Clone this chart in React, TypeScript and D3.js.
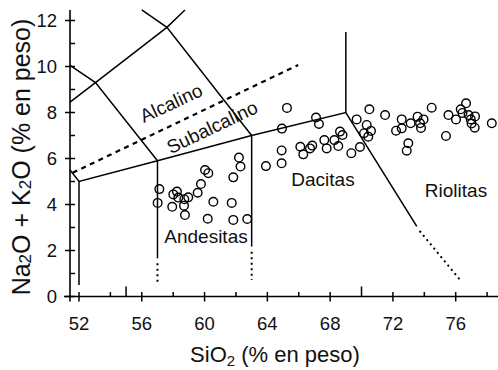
import React from 'react';
import * as d3 from 'd3';

const W = 498;
const H = 370;
const FONT = '"Liberation Sans", Arial, sans-serif';

// Axis ticks
const siMajorTicks = [52, 56, 60, 64, 68, 72, 76];
const siMinorTicks = [54, 58, 62, 66, 74, 78];
const siTallTicks = [55, 70];
const alkMajorTicks = [0, 2, 4, 6, 8, 10, 12];
const alkMinorTicks = [1, 3, 5, 7, 9, 11];

// Sample data (SiO2 wt%, Na2O+K2O wt%)
const sampleSiO2 = [
  57.01, 57.12, 57.94, 58.01, 58.24, 58.33, 58.71, 58.96, 58.69, 58.75, 59.56,
  59.77, 60.03, 60.24, 60.56, 60.2, 61.73, 61.83, 61.83, 62.72, 62.19, 62.29,
  63.91, 64.91, 64.91, 64.93, 65.25, 66.1, 66.29, 66.72, 66.86, 67.1, 67.29,
  67.63, 67.78, 68.27, 68.52, 68.63, 68.79, 69.35, 69.9,
  69.69, 70.5, 70.33, 70.16, 70.43, 70.6, 71.5, 72.56, 72.2, 72.56, 73.13,
  73.57, 73.95, 73.73, 73.79, 74.47, 72.98, 72.88, 75.54, 75.38, 76.02, 76.32,
  76.43, 76.66, 76.82, 77.23, 76.96, 77.01, 77.21, 78.3,
];
const sampleAlkali = [
  4.07, 4.67, 3.9, 4.44, 4.56, 4.3, 4.23, 4.31, 3.95, 3.54, 4.51,
  4.89, 5.5, 5.36, 4.12, 3.38, 4.07, 3.33, 5.18, 3.37, 6.04, 5.65,
  5.67, 5.79, 6.35, 7.3, 8.2, 6.51, 6.18, 6.44, 6.56, 7.78, 7.5,
  6.8, 6.44, 6.8, 6.54, 7.17, 7.02, 6.23, 6.5,
  7.7, 8.14, 7.46, 7.1, 6.95, 7.2, 7.89, 7.7, 7.21, 7.31, 7.53,
  7.82, 7.7, 7.53, 7.33, 8.21, 6.66, 6.34, 7.89, 6.98, 7.7, 8.14,
  7.98, 8.4, 7.89, 7.83, 7.7, 7.52, 7.34, 7.53,
];

// TAS field boundaries (SiO2, alkali)
type P = [number, number];
const solidLines: P[][] = [
  [[51.43, 5.5], [52, 5], [57, 5.9], [63, 7], [69, 8], [73.52, 3.05]],
  [[57, 5.9], [53.05, 9.3], [51.43, 10.05]],
  [[51.43, 8.45], [53.05, 9.3], [57.6, 11.7], [58.75, 12.46]],
  [[56, 12.46], [57.6, 11.7], [63, 7]],
  [[52, 5], [52, 0.5]],
  [[57, 5.9], [57, 1.66]],
  [[63, 7], [63, 2.17]],
  [[69, 8], [69, 11.5]],
];
const dottedLines: P[][] = [
  [[57, 1.45], [57, 0.55]],
  [[63, 1.95], [63, 0.72]],
  [[73.7, 2.85], [76.28, 0.72]],
];
const alkalineDivide: P[] = [[51.6, 5.38], [65.97, 10.07]];

const x = d3.scaleLinear().domain([52, 76]).range([79, 455.7]);
const y = d3.scaleLinear().domain([0, 12]).range([296.5, 20.5]);
const line = d3.line<P>().x((d) => x(d[0])).y((d) => y(d[1]));

export default function App() {
  const x0 = 70;
  const y0 = y(0);
  return (
    <svg
      width={W}
      height={H}
      viewBox={`0 0 ${W} ${H}`}
      style={{ position: 'absolute', left: 0, top: 0, background: '#fff' }}
      fontFamily={FONT}
    >
      <rect x={0} y={0} width={W} height={H} fill="#fff" />
      {/* axes */}
      <line x1={x0} x2={x0} y1={10} y2={y0 + 5} stroke="#000" strokeWidth={1.6} />
      <line x1={64} x2={W} y1={y0} y2={y0} stroke="#000" strokeWidth={1.6} />
      {siMajorTicks.map((t) => (
        <g key={'xm' + t}>
          <line x1={x(t)} x2={x(t)} y1={y0 - 4.5} y2={y0 + 5} stroke="#000" strokeWidth={1.5} />
          <text x={x(t)} y={330} fontSize={18.5} textAnchor="middle" fill="#111">
            {t}
          </text>
        </g>
      ))}
      {siMinorTicks.map((t) => (
        <line key={'xn' + t} x1={x(t)} x2={x(t)} y1={y0 - 4.5} y2={y0} stroke="#000" strokeWidth={1.5} />
      ))}
      {siTallTicks.map((t) => (
        <line key={'xt' + t} x1={x(t)} x2={x(t)} y1={y0 - 10} y2={y0} stroke="#000" strokeWidth={1.5} />
      ))}
      {alkMajorTicks.map((t) => (
        <g key={'ym' + t}>
          <line x1={x0 - 5} x2={x0 + 5} y1={y(t)} y2={y(t)} stroke="#000" strokeWidth={1.5} />
          <text x={57} y={y(t) + 6.5} fontSize={18.5} textAnchor="end" fill="#111">
            {t}
          </text>
        </g>
      ))}
      {alkMinorTicks.map((t) => (
        <line key={'yn' + t} x1={x0} x2={x0 + 5} y1={y(t)} y2={y(t)} stroke="#000" strokeWidth={1.5} />
      ))}

      {/* field boundaries */}
      {solidLines.map((l, i) => (
        <path key={'s' + i} d={line(l) || ''} fill="none" stroke="#000" strokeWidth={1.5} />
      ))}
      {dottedLines.map((l, i) => (
        <path key={'d' + i} d={line(l) || ''} fill="none" stroke="#000" strokeWidth={2} strokeDasharray="2,3.5" />
      ))}
      <path d={line(alkalineDivide) || ''} fill="none" stroke="#000" strokeWidth={2.2} strokeDasharray="5,4.5" />

      {/* samples */}
      {sampleSiO2.map((s, i) => (
        <circle key={'p' + i} cx={x(s)} cy={y(sampleAlkali[i])} r={4.3} fill="none" stroke="#000" strokeWidth={1.4} />
      ))}

      {/* field labels */}
      <text transform="translate(174,109) rotate(-25)" fontSize={19} textAnchor="middle" fill="#111">Alcalino</text>
      <text transform="translate(215,133) rotate(-25.5)" fontSize={19} textAnchor="middle" fill="#111">Subalcalino</text>
      <text x={323} y={186} fontSize={19} textAnchor="middle" fill="#111">Dacitas</text>
      <text x={206} y={243} fontSize={19} textAnchor="middle" fill="#111">Andesitas</text>
      <text x={456} y={197} fontSize={19} textAnchor="middle" fill="#111">Riolitas</text>

      {/* axis titles */}
      <text x={275} y={362} fontSize={22} textAnchor="middle" fill="#111">
        SiO<tspan fontSize={15} dy={4}>2</tspan>
        <tspan dy={-4}> (% en peso)</tspan>
      </text>
      <text transform="translate(30,157) rotate(-90)" fontSize={25} textAnchor="middle" fill="#111">
        Na<tspan fontSize={17} dy={1}>2</tspan>
        <tspan dy={-1}>O + K</tspan>
        <tspan fontSize={17} dy={1}>2</tspan>
        <tspan dy={-1}>O (% en peso)</tspan>
      </text>
    </svg>
  );
}
